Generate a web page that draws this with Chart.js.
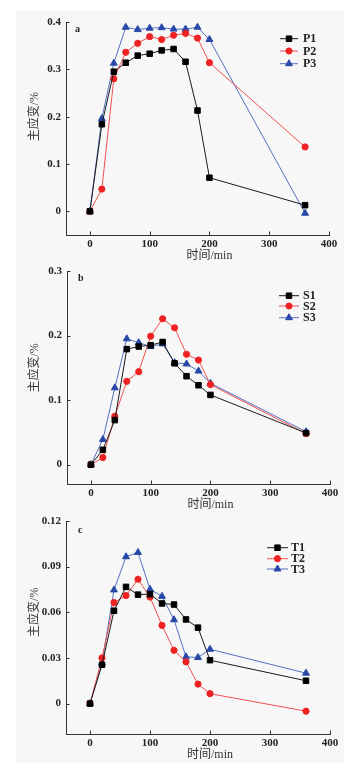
<!DOCTYPE html>
<html>
<head>
<meta charset="utf-8">
<script src="https://cdn.jsdelivr.net/npm/chart.js@4/dist/chart.umd.min.js"></script>
<style>
  body { margin: 0; background: #fff; }
  #page { position: relative; width: 361px; height: 771px; overflow: hidden; }
  #panel { position: absolute; left: 16px; top: 11px; width: 328px; height: 752px; background: #f7f7f7; }
  canvas { position: absolute; left: 0; }
</style>
</head>
<body>
<div id="page">
  <div id="panel"></div>
  <canvas id="chartA" width="361" height="262" style="top:0px"></canvas>
  <canvas id="chartB" width="361" height="262" style="top:255px"></canvas>
  <canvas id="chartC" width="361" height="266" style="top:505px"></canvas>
</div>
<script>
// time of each reading (min)
const times = [0, 20, 40, 60, 80, 100, 120, 140, 160, 180, 200, 360];
const xTicks = [0, 100, 200, 300, 400];

// panel a
const p1 = [0, 0.184, 0.295, 0.314, 0.329, 0.333, 0.340, 0.343, 0.316, 0.213, 0.071, 0.013];
const p2 = [0, 0.047, 0.280, 0.336, 0.355, 0.369, 0.363, 0.372, 0.376, 0.366, 0.314, 0.136];
const p3 = [0, 0.196, 0.313, 0.389, 0.384, 0.387, 0.388, 0.385, 0.385, 0.389, 0.363, -0.004];
const yTicksA = [0, 0.1, 0.2, 0.3, 0.4];

// panel b
const s1 = [0, 0.023, 0.069, 0.179, 0.183, 0.185, 0.190, 0.157, 0.137, 0.123, 0.108, 0.049];
const s2 = [0, 0.011, 0.075, 0.129, 0.144, 0.199, 0.226, 0.212, 0.171, 0.162, 0.124, 0.048];
const s3 = [0, 0.039, 0.119, 0.195, 0.189, 0.183, 0.187, 0.158, 0.156, 0.145, 0.126, 0.051];
const yTicksB = [0, 0.1, 0.2, 0.3];

// panel c
const t1 = [0, 0.0255, 0.061, 0.0767, 0.0716, 0.0719, 0.0658, 0.0651, 0.0553, 0.0499, 0.0285, 0.0150];
const t2 = [0, 0.030, 0.0664, 0.071, 0.0817, 0.070, 0.0514, 0.035, 0.0274, 0.0128, 0.0065, -0.005];
const t3 = [0, 0.0266, 0.0747, 0.0965, 0.0993, 0.0751, 0.0705, 0.0551, 0.0307, 0.0303, 0.0357, 0.020];
const yTicksC = [0, 0.03, 0.06, 0.09, 0.12];

const xTitle = "时间/min";
const yTitle = "主应变/%";

const FONT = "'Liberation Serif', 'Noto Sans CJK SC', serif";
const styles = [
  { line: "#1a1a1a", fill: "#000000", pointStyle: "rect", radius: 3.9 },
  { line: "#f05050", fill: "#ee2222", pointStyle: "circle", radius: 3.1 },
  { line: "#5570c0", fill: "#2848a8", pointStyle: "triangle", radius: 4.0 },
];

// inner ticks, legend, panel letter and axis titles
const extras = {
  id: "extras",
  beforeDatasetsDraw(chart) {
    const ctx = chart.ctx;
    const x = chart.scales.x, y = chart.scales.y;
    ctx.save();
    ctx.strokeStyle = "#333";
    ctx.lineWidth = 1;
    ctx.beginPath();
    for (const t of x.ticks) {
      const px = Math.round(x.getPixelForValue(t.value)) + 0.5;
      ctx.moveTo(px, y.bottom);
      ctx.lineTo(px, y.bottom - 3.5);
    }
    for (const t of y.ticks) {
      const py = Math.round(y.getPixelForValue(t.value)) + 0.5;
      ctx.moveTo(x.left, py);
      ctx.lineTo(x.left + 3.5, py);
    }
    ctx.stroke();
    ctx.restore();
  },
  afterDraw(chart, args, opts) {
    const ctx = chart.ctx;
    const x = chart.scales.x, y = chart.scales.y;
    ctx.save();
    // panel letter
    ctx.fillStyle = "#222";
    ctx.font = "bold 10px " + FONT;
    ctx.textAlign = "left";
    ctx.textBaseline = "middle";
    ctx.fillText(opts.letter, opts.letterX, opts.letterY);

    // legend
    const lg = opts.legend;
    chart.data.datasets.forEach((ds, i) => {
      const ly = lg.ys[i];
      ctx.strokeStyle = ds.borderColor;
      ctx.lineWidth = 1;
      ctx.beginPath();
      ctx.moveTo(lg.x1, ly);
      ctx.lineTo(lg.x2, ly);
      ctx.stroke();
      ctx.fillStyle = ds.pointBackgroundColor;
      ctx.strokeStyle = ds.pointBorderColor;
      Chart.helpers.drawPoint(ctx, {
        pointStyle: ds.pointStyle, radius: ds.pointRadius, rotation: 0, borderWidth: 1,
      }, (lg.x1 + lg.x2) / 2, ly);
      ctx.fillStyle = "#222";
      ctx.font = "bold 12px " + FONT;
      ctx.textAlign = "left";
      ctx.textBaseline = "middle";
      ctx.fillText(ds.label, lg.tx, ly + 0.5);
    });

    // axis titles
    ctx.fillStyle = "#333";
    ctx.font = "12px " + FONT;
    ctx.textAlign = "center";
    ctx.textBaseline = "middle";
    ctx.fillText(xTitle, x.getPixelForValue(200), y.bottom + 21);
    const yTop = opts.yTicks[opts.yTicks.length - 1];
    ctx.translate(35, y.getPixelForValue(yTop / 2));
    ctx.rotate(-Math.PI / 2);
    ctx.fillText(yTitle, 0, 0);
    ctx.restore();
  },
};

function makeChart(id, cfg) {
  const datasets = cfg.series.map((arr, i) => {
    const st = styles[i];
    return {
      label: cfg.names[i],
      data: times.map((t, k) => ({ x: t, y: arr[k] })),
      borderColor: st.line,
      borderWidth: 1,
      pointStyle: st.pointStyle,
      pointRadius: st.radius,
      pointBackgroundColor: st.fill,
      pointBorderColor: st.fill,
      pointBorderWidth: 1,
      tension: 0,
      clip: false,
    };
  });
  return new Chart(document.getElementById(id), {
    type: "line",
    data: { datasets },
    options: {
      responsive: false,
      animation: false,
      devicePixelRatio: 1,
      layout: { padding: { top: cfg.padTop, right: cfg.padRight, left: 0, bottom: 0 } },
      scales: {
        x: {
          type: "linear",
          min: -40,
          max: 400,
          afterBuildTicks: (s) => { s.ticks = xTicks.map((v) => ({ value: v })); },
          afterFit: (s) => { s.height = cfg.xHeight; },
          grid: { display: false, drawTicks: false },
          border: { display: true, color: "#333", width: 1 },
          ticks: { padding: 3, color: "#222", font: { family: FONT, size: 11, weight: "bold" } },
        },
        y: {
          min: cfg.yMin,
          max: cfg.yTicks[cfg.yTicks.length - 1],
          afterBuildTicks: (s) => { s.ticks = cfg.yTicks.map((v) => ({ value: v })); },
          afterFit: (s) => { s.width = cfg.yWidth; },
          grid: { display: false, drawTicks: false },
          border: { display: true, color: "#333", width: 1 },
          ticks: {
            padding: 5,
            color: "#222",
            font: { family: FONT, size: 11, weight: "bold" },
            callback: (v) => String(+v.toFixed(2)),
          },
        },
      },
      plugins: {
        legend: { display: false },
        tooltip: { enabled: false },
        extras: {
          letter: cfg.letter, letterX: cfg.letterX, letterY: cfg.letterY,
          legend: cfg.legend, yTicks: cfg.yTicks,
        },
      },
    },
    plugins: [extras],
  });
}

makeChart("chartA", {
  series: [p1, p2, p3], names: ["P1", "P2", "P3"], yTicks: yTicksA, yMin: -0.05,
  padTop: 22, padRight: 32, yWidth: 66, xHeight: 27,
  letter: "a", letterX: 75, letterY: 29,
  legend: { x1: 280, x2: 298, tx: 303, ys: [38.7, 51, 63.7] },
});
makeChart("chartB", {
  series: [s1, s2, s3], names: ["S1", "S2", "S3"], yTicks: yTicksB, yMin: -0.03,
  padTop: 16, padRight: 31, yWidth: 67, xHeight: 33,
  letter: "b", letterX: 78, letterY: 23,
  legend: { x1: 279, x2: 299, tx: 303, ys: [40.7, 51, 62.7] },
});
makeChart("chartC", {
  series: [t1, t2, t3], names: ["T1", "T2", "T3"], yTicks: yTicksC, yMin: -0.02,
  padTop: 16, padRight: 31, yWidth: 66, xHeight: 37,
  letter: "c", letterX: 78, letterY: 25,
  legend: { x1: 267, x2: 288, tx: 291, ys: [42.7, 53.7, 64] },
});
</script>
</body>
</html>
